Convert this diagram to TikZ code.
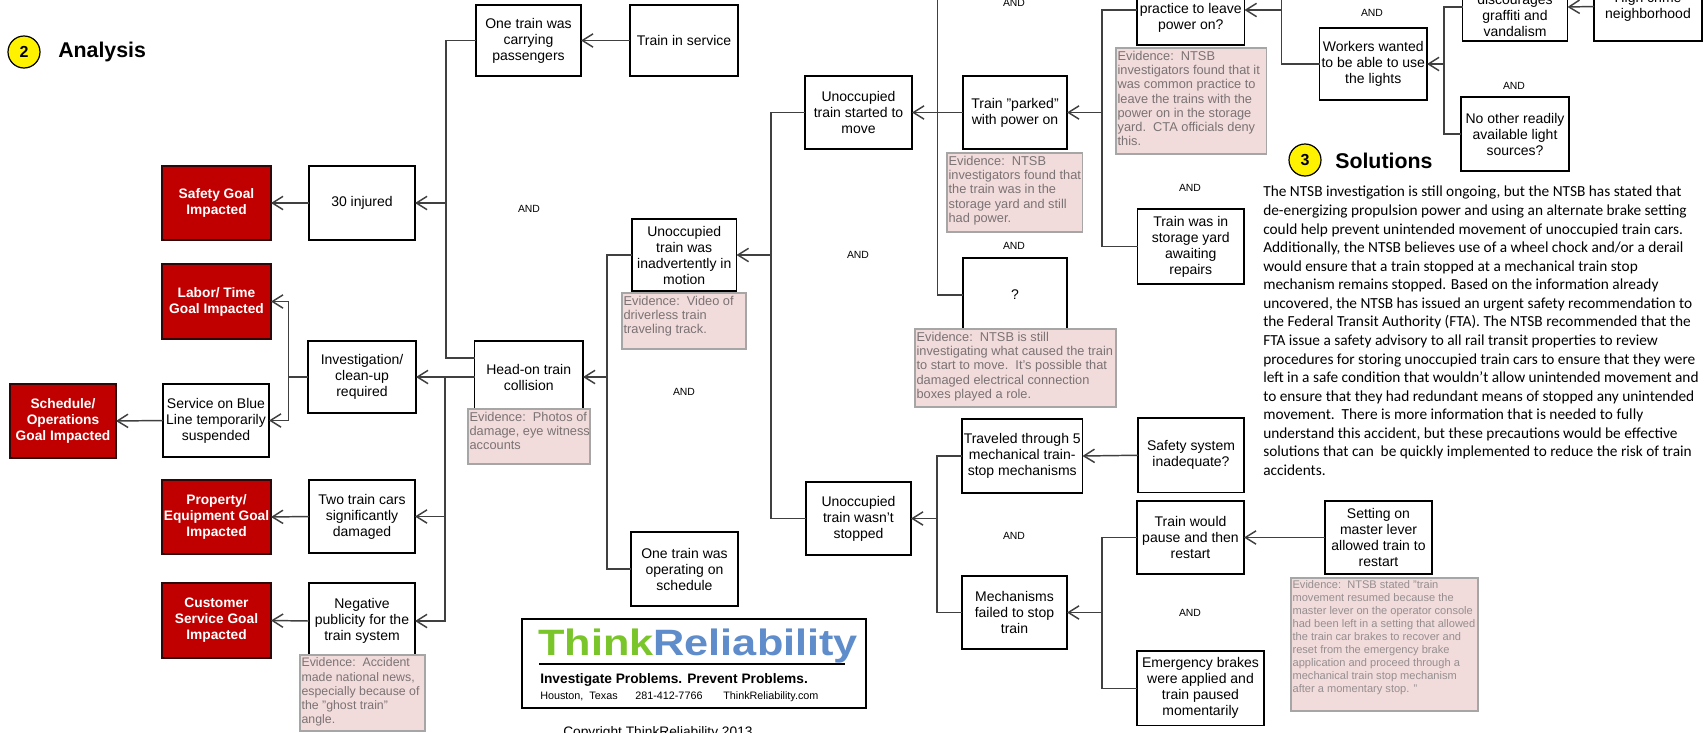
\documentclass[tikz,border=0pt]{standalone}
\usepackage{fontspec}
\usepackage{graphicx}
\setmainfont{Liberation Sans}
\newfontfamily\calib{Carlito}
\usetikzlibrary{arrows.meta}
\definecolor{linec}{HTML}{404040}
\definecolor{evfill}{HTML}{F2DCDB}
\definecolor{evline}{HTML}{A6A6A6}
\definecolor{evtxt}{HTML}{7A7274}
\definecolor{redbox}{HTML}{C00000}
\definecolor{redline}{HTML}{2E0808}
\definecolor{tgreen}{HTML}{7AC62A}
\definecolor{tblue}{HTML}{5F8CCB}
\newcommand\bx[7][boxn]{\node[#1,minimum width={(#5-#3)*0.75pt},minimum height={(#6-#4)*0.75pt}] (#2) at ({(#3+#5)/2},{(#4+#6)/2}) {#7};}
\newcommand\ev[7][evtext]{\node[evbox,minimum width={(#5-#3)*0.75pt},minimum height={(#6-#4)*0.75pt}] (#2) at ({(#3+#5)/2},{(#4+#6)/2}) {};
\node[#1] (#2t) at (#2.north west) {#7};}
\tikzset{
 x=0.75pt,y=-0.75pt,
 boxn/.style={draw=black,fill=white,line width=0.9pt,inner sep=0pt,outer sep=0pt,align=center,font=\fontsize{10.5}{12}\selectfont},
 goal/.style={draw=redline,fill=redbox,line width=1.8pt,inner sep=0pt,outer sep=0pt,align=center,text=white,font=\fontsize{10.3}{12}\bfseries\selectfont},
 evbox/.style={draw=evline,fill=evfill,line width=1.2pt,inner sep=0pt,outer sep=0pt},
 evtext/.style={anchor=north west,inner xsep=1pt,inner ysep=2pt,align=left,text=evtxt,font=\fontsize{9.6}{10.7}\selectfont},
 evnarrow/.style={evtext,font=\fontsize{9.25}{10.7}\selectfont},
 evsmall/.style={evtext,text=evtxt!80!white,font=\fontsize{8.3}{9.75}\selectfont},
 andl/.style={inner sep=0pt,font=\fontsize{7.8}{9}\selectfont},
 conn/.style={draw=linec,line width=1.1pt},
 arr/.style={conn,-{Straight Barb[length=8pt,width=10pt,line width=1.1pt]}},
 badge/.style={circle,draw=black,fill=yellow,line width=0.9pt,minimum size=24pt,inner sep=0pt,font=\fontsize{12}{14}\bfseries\selectfont},
 head/.style={anchor=base west,inner sep=0pt,font=\fontsize{16}{18}\bfseries\selectfont},
}
\begin{document}
\begin{tikzpicture}
\useasboundingbox (0,0) rectangle (1706,732);
\clip (0,0) rectangle (1706,732);
% boxes
\bx{carry}{476}{5}{581}{76}{One train was\\carrying\\passengers}
\bx{service}{630}{5}{738}{76}{Train in service}
\bx[goal]{safety}{162}{166}{271}{240}{Safety Goal\\Impacted}
\bx{injured}{309}{166}{415}{240}{30 injured}
\bx[goal]{labor}{162}{264}{271}{339}{Labor/ Time\\Goal Impacted}
\bx{invest}{308}{341}{416}{413}{Investigation/\\clean-up\\required}
\bx[goal]{schedule}{10}{384}{116}{458}{Schedule/\\Operations\\Goal Impacted}
\bx{blue}{163}{384}{269}{457}{Service on Blue\\Line temporarily\\suspended}
\bx[goal]{property}{162}{480}{271}{554}{Property/\\Equipment Goal\\Impacted}
\bx{twotrain}{309}{480}{415}{553}{Two train cars\\significantly\\damaged}
\bx[goal]{customer}{162}{583}{271}{658}{Customer\\Service Goal\\Impacted}
\bx{negative}{309}{583}{415}{659}{Negative\\publicity for the\\train system}
\bx{collision}{474.5}{341}{583}{413}{Head-on train\\collision}
\bx{motion}{632}{219}{736.5}{291}{Unoccupied\\train was\\inadvertently in\\motion}
\bx{operating}{631}{532}{738}{606}{One train was\\operating on\\schedule}
\bx{started}{805}{76}{912}{149}{Unoccupied\\train started to\\move}
\bx{parked}{963}{76}{1067}{149}{Train "parked"\\with power on}
\bx{unknown}{963}{258}{1067}{332}{?}
\bx{wasnt}{806}{482}{911}{555}{Unoccupied\\train wasn't\\stopped}
\bx{traveled}{962}{419}{1082.5}{493}{Traveled through 5\\mechanical train-\\stop mechanisms}
\bx{mech}{962}{576}{1067}{649}{Mechanisms\\failed to stop\\train}
\bx{practice}{1137}{-25}{1244.5}{45}{\rule{0pt}{8pt}\\practice to leave\\power on?}
\bx{storage}{1137.5}{209}{1244}{284}{Train was in\\storage yard\\awaiting\\repairs}
\bx{workers}{1319.5}{28}{1427}{100}{Workers wanted\\to be able to use\\the lights}
\bx{discourage}{1462.5}{-27}{1567.5}{41}{\rule{0pt}{8pt}\\discourages\\graffiti and\\vandalism}
\bx{crime}{1594}{-28}{1702}{41}{High crime\\neighborhood}
\bx{noother}{1461}{97}{1569}{171}{No other readily\\available light\\sources?}
\bx{safesys}{1138}{418}{1244}{492.5}{Safety system\\inadequate?}
\bx{pause}{1137}{501}{1244}{574}{Train would\\pause and then\\restart}
\bx{setting}{1325}{501}{1432}{574}{Setting on\\master lever\\allowed train to\\restart}
\bx{emergency}{1137}{651}{1264}{725.5}{Emergency brakes\\were applied and\\train paused\\momentarily}
% junctions
\coordinate (ja) at (446,203);
\coordinate (hu) at (474.5,358);
\coordinate (jb) at (445,377);
\coordinate (jc) at (288.5,377);
\coordinate (jd) at (607,377);
\coordinate (je) at (771,255);
\coordinate (topa) at (937.5,-10);
\coordinate (jg) at (1102,112.5);
\coordinate (jh) at (1281.5,10);
\coordinate (topb) at (1281.5,-10);
\coordinate (ji) at (1444,64);
\coordinate (jk) at (937,518.5);
\coordinate (jl) at (1102,612.5);
% connectors
\draw[arr] (service.west) -- (carry.east);
\draw[conn] (carry.west) -| (ja);
\draw[conn] (hu) -| (ja);
\draw[arr] (ja) -- (injured.east);
\draw[arr] (injured.west) -- (safety.east);
\draw[arr] (collision.west) -- (invest.east);
\draw[arr] (jb) |- (twotrain.east);
\draw[arr] (jb) |- (negative.east);
\draw[arr] (twotrain.west) -- (property.east);
\draw[arr] (negative.west) -- (customer.east);
\draw[conn] (invest.west) -- (jc);
\draw[arr] (jc) |- (labor.east);
\draw[arr] (jc) |- (blue.east);
\draw[arr] (blue.west) -- (schedule.east);
\draw[arr] (jd) -- (collision.east);
\draw[conn] (motion.west) -| (jd);
\draw[conn] (operating.west) -| (jd);
\draw[arr] (je) -- (motion.east);
\draw[conn] (started.west) -| (je);
\draw[conn] (wasnt.west) -| (je);
\draw[arr] (parked.west) -- (started.east);
\draw[conn] (topa) |- (unknown.west);
\draw[arr] (jg) -- (parked.east);
\draw[conn] (practice.west) -| (jg);
\draw[conn] (storage.west) -| (jg);
\draw[arr] (jh) -- (practice.east);
\draw[conn] (topb) |- (workers.west);
\draw[arr] (ji) -- (workers.east);
\draw[conn] (discourage.west) -| (ji);
\draw[conn] (noother.west) -| (ji);
\draw[arr] (crime.west) -- (discourage.east);
\draw[arr] (jk) -- (wasnt.east);
\draw[conn] (traveled.west) -| (jk);
\draw[conn] (mech.west) -| (jk);
\draw[arr] (safesys.west) -- (traveled.east);
\draw[arr] (jl) -- (mech.east);
\draw[conn] (pause.west) -| (jl);
\draw[conn] (emergency.west) -| (jl);
\draw[arr] (setting.west) -- (pause.east);
% evidence
\ev[evnarrow]{evnews}{300}{655}{425}{731}{Evidence:\ \ Accident\\made national news,\\especially because of\\the "ghost train"\\angle.}
\ev{evphotos}{468}{409}{590}{464}{Evidence:\ \ Photos of\\damage, eye witness\\accounts}
\ev{evvideo}{622}{293}{746}{349}{Evidence:\ \ Video of\\driverless train\\traveling track.}
\ev{evparked}{947}{153}{1082.5}{232}{Evidence:\ \ NTSB\\investigators found that\\the train was in the\\storage yard and still\\had power.}
\ev{evwhy}{915}{329}{1116}{407}{Evidence:\ \ NTSB is still\\investigating what caused the train\\to start to move.\ \ It's possible that\\damaged electrical connection\\boxes played a role.}
\ev{evcommon}{1116}{48}{1266.5}{154}{Evidence:\ \ NTSB\\investigators found that it\\was common practice to\\leave the trains with the\\power on in the storage\\yard.\ \ CTA officials deny\\this.}
\ev[evsmall]{evlever}{1291}{578}{1478}{711}{Evidence:\ \ NTSB stated "train\\movement resumed because the\\master lever on the operator console\\had been left in a setting that allowed\\the train car brakes to recover and\\reset from the emergency brake\\application and proceed through a\\mechanical train stop mechanism\\after a momentary stop. "}
% AND labels
\node[andl] (and1) at (529,208.5) {AND};
\node[andl] (and2) at (684,391.5) {AND};
\node[andl] (and3) at (858,254.5) {AND};
\node[andl] (and4) at (1014,245.5) {AND};
\node[andl] (and5) at (1014,3) {AND};
\node[andl] (and6) at (1014,535.5) {AND};
\node[andl] (and7) at (1190,187.5) {AND};
\node[andl] (and8) at (1190,612.5) {AND};
\node[andl] (and9) at (1372,12.5) {AND};
\node[andl] (and10) at (1514,86) {AND};
% headings
\node[badge] (b2) at (24,52) {2};
\node[head] (analysis) at (58,57) {Analysis};
\node[badge] (b3) at (1305,160) {3};
\node[head] (solutions) at (1335,168) {Solutions};
% paragraph
\node[anchor=north west,inner sep=0pt,align=left,font=\calib\fontsize{11.5}{13.93}\selectfont] (para) at (1263,186) {The NTSB investigation is still ongoing, but the NTSB has stated that\\
de-energizing propulsion power and using an alternate brake setting\\
could help prevent unintended movement of unoccupied train cars.\\
Additionally, the NTSB believes use of a wheel chock and/or a derail\\
would ensure that a train stopped at a mechanical train stop\\
mechanism remains stopped. Based on the information already\\
uncovered, the NTSB has issued an urgent safety recommendation to\\
the Federal Transit Authority (FTA). The NTSB recommended that the\\
FTA issue a safety advisory to all rail transit properties to review\\
procedures for storing unoccupied train cars to ensure that they were\\
left in a safe condition that wouldn’t allow unintended movement and\\
to ensure that they had redundant means of stopped any unintended\\
movement.\ \ There is more information that is needed to fully\\
understand this accident, but these precautions would be effective\\
solutions that can\ \ be quickly implemented to reduce the risk of train\\
accidents.};
% logo
\node[draw=black,fill=white,line width=0.9pt,inner sep=0pt,minimum width={344*0.75pt},minimum height={89*0.75pt}] (logo) at (694,663.5) {};
\node[anchor=base west,inner sep=0pt,font=\fontsize{27.5}{30}\bfseries\selectfont] (brand) at (538,655) {\scalebox{1.18}[1]{\textcolor{tgreen}{Think}\textcolor{tblue}{Reliability}}};
\coordinate (rl) at (539,664);
\coordinate (rr) at (845,664);
\draw[line width=0.9pt] (rl) -- (rr);
\node[anchor=base west,inner sep=0pt,font=\fontsize{10.3}{12}\bfseries\selectfont] (tagline) at (540,683) {Investigate Problems. Prevent Problems.};
\node[anchor=base west,inner sep=0pt,font=\fontsize{8.1}{10}\selectfont] (c1) at (540,699) {Houston,\ \ Texas};
\node[anchor=base west,inner sep=0pt,font=\fontsize{8.1}{10}\selectfont] (c2) at (635,699) {281-412-7766};
\node[anchor=base west,inner sep=0pt,font=\fontsize{8.1}{10}\selectfont] (c3) at (723,699) {ThinkReliability.com};
\node[anchor=base west,inner sep=0pt,font=\fontsize{10.3}{12}\selectfont] (copy) at (563,736) {Copyright ThinkReliability 2013};
\end{tikzpicture}
\end{document}
